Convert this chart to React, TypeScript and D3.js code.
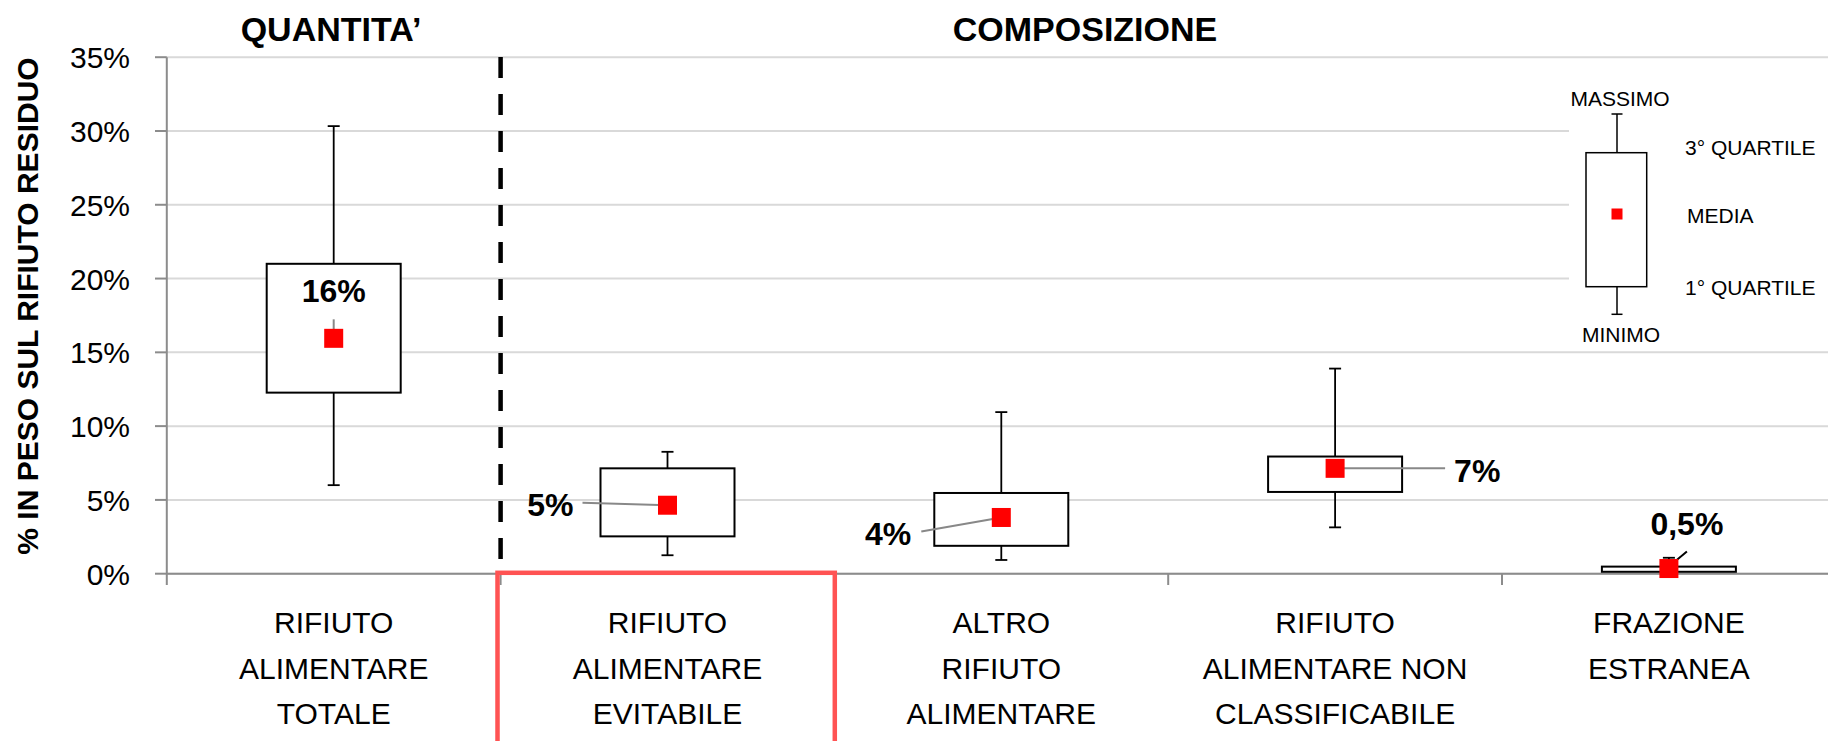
import React from "react";
import * as d3 from "d3";

const categories: string[][] = [
  ["RIFIUTO", "ALIMENTARE", "TOTALE"],
  ["RIFIUTO", "ALIMENTARE", "EVITABILE"],
  ["ALTRO", "RIFIUTO", "ALIMENTARE"],
  ["RIFIUTO", "ALIMENTARE NON", "CLASSIFICABILE"],
  ["FRAZIONE", "ESTRANEA"],
];
const minimo = [6.0, 1.25, 0.93, 3.14, 0.0];
const q1 = [12.27, 2.53, 1.89, 5.54, 0.13];
const q3 = [21.0, 7.14, 5.47, 7.94, 0.48];
const massimo = [30.33, 8.26, 10.95, 13.9, 1.08];
const media = [15.95, 4.64, 3.81, 7.14, 0.35];
const mediaLabels = ["16%", "5%", "4%", "7%", "0,5%"];
const yTicks = [0, 5, 10, 15, 20, 25, 30, 35];

const W = 1828;
const H = 741;
const FONT = "'Liberation Sans', Arial, sans-serif";

export default function App() {
  const x0 = 166.8;
  const step = 333.8;
  const x = d3
    .scaleBand<number>()
    .domain(categories.map((_, i) => i))
    .range([x0, x0 + step * categories.length])
    .paddingInner(0)
    .paddingOuter(0);
  const y = d3.scaleLinear().domain([0, 35]).range([573.7, 57.2]);
  const boxW = 134;
  const capW = 12;
  const mk = 19;

  const cx = (i: number) => (x(i) as number) + x.bandwidth() / 2;

  // label placements (offsets relative to box center / mean point)
  const labelPos = [
    { dx: 0, dy: -36, anchor: "middle", lx1: 0, ly1: -19, lx2: 0, ly2: 0, color: "#888" },
    { dx: -94, dy: 11, anchor: "end", lx1: -85, ly1: -2.5, lx2: 0, ly2: 0, color: "#888" },
    { dx: -90, dy: 28, anchor: "end", lx1: -80, ly1: 14, lx2: 0, ly2: 0, color: "#888" },
    { dx: 119, dy: 14, anchor: "start", lx1: 110, ly1: 0, lx2: 0, ly2: 0, color: "#888" },
    { dx: 18, dy: -34, anchor: "middle", lx1: 18, ly1: -17, lx2: 0, ly2: -2, color: "#000" },
  ];

  const dashX = x0 + step;

  return (
    <svg
      width={W}
      height={H}
      style={{ position: "fixed", left: 0, top: 0, background: "#fff" }}
      fontFamily={FONT}
    >
      <rect x={0} y={0} width={W} height={H} fill="#fff" />
      {/* gridlines */}
      {yTicks.map((t) => (
        <line key={"g" + t} x1={x0} x2={W} y1={y(t)} y2={y(t)} stroke="#d9d9d9" strokeWidth={2} />
      ))}
      {/* legend background */}
      <rect x={1569} y={72} width={W - 1569} height={272} fill="#fff" />
      {/* y ticks */}
      {yTicks.map((t) => (
        <g key={"t" + t}>
          <line x1={155} x2={x0} y1={y(t)} y2={y(t)} stroke="#8c8c8c" strokeWidth={2} />
          <text x={130} y={y(t) + 11} textAnchor="end" fontSize={30} fill="#000">
            {t + "%"}
          </text>
        </g>
      ))}
      {/* axes */}
      <line x1={x0} x2={x0} y1={y(35)} y2={585} stroke="#8c8c8c" strokeWidth={2} />
      <line x1={x0} x2={W} y1={y(0)} y2={y(0)} stroke="#8c8c8c" strokeWidth={2} />
      {categories.map((_, i) => (
        <line key={"xt" + i} x1={(x(i) as number) + step} x2={(x(i) as number) + step} y1={y(0)} y2={585} stroke="#8c8c8c" strokeWidth={2} />
      ))}
      {/* y axis title */}
      <text
        transform={`translate(38,306) rotate(-90)`}
        textAnchor="middle"
        fontSize={30}
        fontWeight="bold"
        fill="#000"
      >
        % IN PESO SUL RIFIUTO RESIDUO
      </text>
      {/* section titles */}
      <text x={331} y={41} textAnchor="middle" fontSize={34} fontWeight="bold">QUANTITA’</text>
      <text x={1085} y={41} textAnchor="middle" fontSize={34} fontWeight="bold">COMPOSIZIONE</text>
      {/* dashed separator */}
      <line x1={dashX} x2={dashX} y1={57} y2={574} stroke="#000" strokeWidth={4.5} strokeDasharray="21 16" />
      {/* boxes */}
      {categories.map((_, i) => {
        const c = cx(i);
        return (
          <g key={"b" + i}>
            <line x1={c} x2={c} y1={y(massimo[i])} y2={y(q3[i])} stroke="#000" strokeWidth={1.8} />
            <line x1={c} x2={c} y1={y(q1[i])} y2={y(minimo[i])} stroke="#000" strokeWidth={1.8} />
            <line x1={c - capW / 2} x2={c + capW / 2} y1={y(massimo[i])} y2={y(massimo[i])} stroke="#000" strokeWidth={1.8} />
            <line x1={c - capW / 2} x2={c + capW / 2} y1={y(minimo[i])} y2={y(minimo[i])} stroke="#000" strokeWidth={1.8} />
            <rect x={c - boxW / 2} y={y(q3[i])} width={boxW} height={y(q1[i]) - y(q3[i])} fill="#fff" stroke="#000" strokeWidth={2} />
          </g>
        );
      })}
      {/* leader lines, markers, labels */}
      {categories.map((_, i) => {
        const c = cx(i);
        const m = y(media[i]);
        const p = labelPos[i];
        return (
          <g key={"m" + i}>
            <line x1={c + p.lx1} y1={m + p.ly1} x2={c + p.lx2} y2={m + p.ly2} stroke={p.color} strokeWidth={2} />
            <rect x={c - mk / 2} y={m - mk / 2} width={mk} height={mk} fill="#ff0000" />
            <text x={c + p.dx} y={m + p.dy} textAnchor={p.anchor as any} fontSize={32} fontWeight="bold">
              {mediaLabels[i]}
            </text>
          </g>
        );
      })}
      {/* category labels */}
      {categories.map((lines, i) => (
        <text key={"c" + i} textAnchor="middle" fontSize={30} fill="#000">
          {lines.map((l, j) => (
            <tspan key={j} x={cx(i)} y={633 + j * 45.5}>
              {l}
            </tspan>
          ))}
        </text>
      ))}
      {/* red highlight */}
      <rect x={497.5} y={572.8} width={337.3} height={200} fill="none" stroke="#ff5353" strokeWidth={4.5} />
      {/* legend */}
      <g>
        <line x1={1617} x2={1617} y1={114} y2={152.7} stroke="#000" strokeWidth={1.5} />
        <line x1={1611.5} x2={1622.5} y1={114} y2={114} stroke="#000" strokeWidth={1.5} />
        <line x1={1617} x2={1617} y1={286.7} y2={314.3} stroke="#000" strokeWidth={1.5} />
        <line x1={1611.5} x2={1622.5} y1={314.3} y2={314.3} stroke="#000" strokeWidth={1.5} />
        <rect x={1586} y={152.7} width={60.7} height={134} fill="#fff" stroke="#000" strokeWidth={1.5} />
        <rect x={1611.5} y={208.5} width={11} height={11} fill="#ff0000" />
        <text x={1620} y={105.7} textAnchor="middle" fontSize={21}>MASSIMO</text>
        <text x={1685} y={155} fontSize={21}>3° QUARTILE</text>
        <text x={1687} y={222.7} fontSize={21}>MEDIA</text>
        <text x={1685} y={295} fontSize={21}>1° QUARTILE</text>
        <text x={1621} y={341.7} textAnchor="middle" fontSize={21}>MINIMO</text>
      </g>
    </svg>
  );
}
